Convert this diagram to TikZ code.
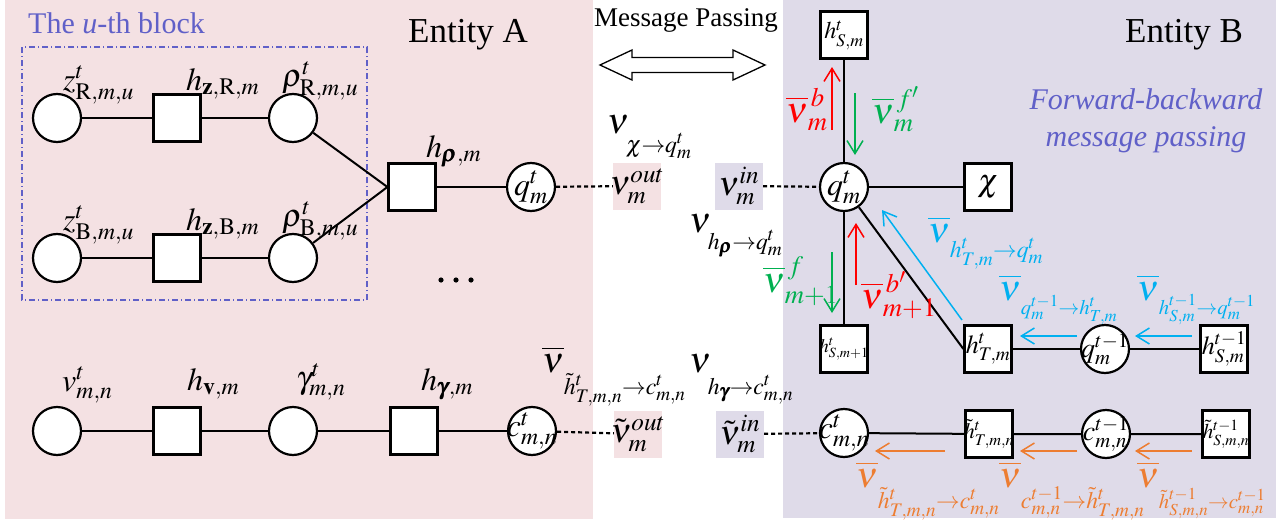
\documentclass[tikz,border=0pt]{standalone}
\usepackage{amsmath}
\usepackage{mathptmx}
\usepackage{fontspec}
\setmainfont{Liberation Serif}
\usetikzlibrary{arrows.meta}
\definecolor{pinkbg}{RGB}{244,225,227}
\definecolor{lavbg}{RGB}{223,219,233}
\definecolor{bluev}{RGB}{96,96,200}
\definecolor{myred}{RGB}{255,0,0}
\definecolor{mygreen}{RGB}{0,176,80}
\definecolor{myblue}{RGB}{0,176,240}
\definecolor{myorange}{RGB}{237,125,49}
\newcommand{\Lsub}[2][16pt]{_{\raisebox{-#1}{\fontsize{32}{38}\selectfont$\scriptstyle #2$}}}
\newcommand{\LsubS}[2][16pt]{_{\raisebox{-#1}{\fontsize{28}{34}\selectfont$\scriptstyle #2$}}}
\newcommand{\ob}{\overline{\nu}}
\tikzset{
  vnode/.style={circle, draw, line width=2.2pt, fill=white, minimum size=48pt, inner sep=0pt},
  fnode/.style={rectangle, draw, line width=2.2pt, fill=white, minimum size=47pt, inner sep=0pt},
  edgeline/.style={line width=2pt},
  dedge/.style={line width=2.2pt, dash pattern=on 4pt off 3pt},
  msgbox/.style={rectangle, minimum width=48pt, minimum height=47pt, inner sep=0pt},
  marr/.style={line width=1.5pt, -{Straight Barb[length=13pt,width=16pt]}},
  lab/.style={inner sep=0pt, anchor=base west, font=\fontsize{32}{38}\selectfont},
  nlab/.style={inner sep=0pt, anchor=base west, font=\fontsize{36}{42}\selectfont},
  inlab/.style={font=\fontsize{32}{38}\selectfont},
  sqlab/.style={font=\fontsize{24}{28}\selectfont},
  title/.style={inner sep=0pt, font=\fontsize{35}{42}\selectfont},
}
\begin{document}
\begin{tikzpicture}[x=1pt,y=-1pt]
\useasboundingbox (0,0) rectangle (1283,522);
% backgrounds
\fill[pinkbg] (5,0) rectangle (593,519);
\fill[lavbg] (783,0) rectangle (1276,518);
% titles
\node[title, anchor=base west, text=bluev, font=\fontsize{30}{36}\selectfont] (tblock) at (28,33) {The \textit{u}-th block};
\node[title, anchor=base] (tA) at (468,42) {Entity A};
\node[title, anchor=base] (tB) at (1184,42) {Entity B};
\node[title, anchor=base, font=\fontsize{27}{32}\selectfont] (tMP) at (686,27) {Message Passing};
\node[title, text=bluev, align=center, font=\fontsize{30}{37}\itshape\selectfont] (tFB) at (1146,121) {Forward-backward\\message passing};
% double arrow
\draw[line width=1.3pt, fill=white] (600,65) -- (632,50) -- (632,57.5) -- (733,57.5) -- (733,50) -- (765,65) -- (733,80) -- (733,72.5) -- (632,72.5) -- (632,80) -- cycle;
% u-th block
\draw[bluev, line width=1.1pt, dash pattern=on 6pt off 3pt on 1pt off 3pt] (22,47) rectangle (367,300);

% ---------- left nodes ----------
\node[vnode] (zR) at (57,118) {};
\node[fnode] (hzR) at (177,118) {};
\node[vnode] (rhoR) at (293,118) {};
\node[vnode] (zB) at (57,258) {};
\node[fnode] (hzB) at (177,258) {};
\node[vnode] (rhoB) at (293,258) {};
\node[fnode] (hrho) at (412,187) {};
\node[vnode, label={[inlab]center:$q^t_m$}] (qL) at (531,187) {};
\node[vnode] (v) at (57,431) {};
\node[fnode] (hv) at (177,431) {};
\node[vnode] (gam) at (293,431) {};
\node[fnode] (hgam) at (414,431) {};
\node[vnode, label={[inlab]center:$c^t_{m,n}$}] (cL) at (532,431) {};

\draw[edgeline] (zR) -- (hzR) -- (rhoR);
\draw[edgeline] (zB) -- (hzB) -- (rhoB);
\draw[edgeline] (rhoR) -- (hrho.west);
\draw[edgeline] (rhoB) -- (hrho.west);
\draw[edgeline] (hrho) -- (qL);
\draw[edgeline] (v) -- (hv) -- (gam) -- (hgam) -- (cL);

\node[lab] (lzR) at (63,90) {$z^t_{\mathrm{R},m,u}$};
\node[lab] (lhzR) at (186,90) {$h_{\mathbf{z},\mathrm{R},m}$};
\node[lab] (lrhoR) at (282,86) {$\rho^t_{\mathrm{R},m,u}$};
\node[lab] (lzB) at (63,230) {$z^t_{\mathrm{B},m,u}$};
\node[lab] (lhzB) at (186,230) {$h_{\mathbf{z},\mathrm{B},m}$};
\node[lab] (lrhoB) at (282,226) {$\rho^t_{\mathrm{B},m,u}$};
\node[lab] (lhrho) at (426,157) {$h_{\pmb{\rho},m}$};
\node[lab] (lv) at (62,391) {$v^t_{m,n}$};
\node[lab] (lhv) at (187,390) {$h_{\mathbf{v},m}$};
\node[lab] (lgam) at (296,388) {$\gamma^t_{m,n}$};
\node[lab] (lhgam) at (421,390) {$h_{\pmb{\gamma},m}$};
\foreach \xx [count=\i] in {441,456,471} \fill (\xx,280) circle (2.6pt);

% ---------- middle ----------
\node[msgbox, fill=pinkbg, label={[inlab, font=\fontsize{34}{40}\selectfont]center:$\nu^{out}_m$}] (nuout) at (637,186) {};
\node[msgbox, fill=lavbg, label={[inlab, font=\fontsize{34}{40}\selectfont]center:$\nu^{in}_m$}] (nuin) at (739,186) {};
\node[msgbox, fill=pinkbg, label={[inlab, font=\fontsize{34}{40}\selectfont]center:$\tilde\nu^{out}_m$}] (nutout) at (638,434) {};
\node[msgbox, fill=lavbg, label={[inlab, font=\fontsize{34}{40}\selectfont]center:$\tilde\nu^{in}_m$}] (nutin) at (740,434) {};
\node[nlab] (lnuchi) at (607,133) {$\nu\Lsub[14pt]{\chi\to q^t_m}$};
\node[nlab] (lnuhrho) at (689,232) {$\nu\Lsub[12pt]{h_{\pmb{\rho}}\to q^t_m}$};
\node[nlab] (lnubT) at (542,372) {$\ob\Lsub[17pt]{\tilde h^t_{T,m,n}\to c^t_{m,n}}$};
\node[nlab] (lnuhg) at (689,372) {$\nu\Lsub[17pt]{h_{\pmb{\gamma}}\to c^t_{m,n}}$};

% ---------- right nodes ----------
\node[fnode, label={[sqlab]center:$h^t_{S,m}$}] (hS) at (844,35) {};
\node[vnode, label={[inlab]center:$q^t_m$}] (qR) at (844,187) {};
\node[fnode, label={[inlab]center:$\chi$}] (chi) at (988,187) {};
\node[fnode, label={[sqlab, font=\fontsize{19}{23}\selectfont]center:$h^t_{S,m+1}$}] (hS1) at (844,349) {};
\node[fnode, label={[sqlab, font=\fontsize{26}{30}\selectfont]center:$h^t_{T,m}$}] (hT) at (988,349) {};
\node[vnode, label={[inlab, font=\fontsize{28}{32}\selectfont]center:$q^{t-1}_m$}] (qt1) at (1105,349) {};
\node[fnode, label={[sqlab, font=\fontsize{26}{30}\selectfont]center:$h^{t-1}_{S,m}$}] (hSt1) at (1224,349) {};
\node[vnode, label={[inlab]center:$c^t_{m,n}$}] (cR) at (844,433) {};
\node[fnode, label={[sqlab, font=\fontsize{22}{26}\selectfont]center:$\tilde h^t_{T,m,n}$}] (hTt) at (989,434) {};
\node[vnode, label={[inlab, font=\fontsize{28}{32}\selectfont]center:$c^{t-1}_{m,n}$}] (ct1) at (1106,434) {};
\node[fnode, label={[sqlab, font=\fontsize{21}{25}\selectfont]center:$\tilde h^{t-1}_{S,m,n}$}] (hSt) at (1226,434) {};

\draw[edgeline] (hS) -- (qR) -- (hS1);
\draw[edgeline] (qR) -- (chi);
\draw[edgeline] (qR) -- (hT.west);
\draw[edgeline] (hT) -- (qt1) -- (hSt1);
\draw[edgeline] (cR) -- (hTt) -- (ct1) -- (hSt);
\draw[dedge] (qL) -- (nuout);
\draw[dedge] (nuin) -- (qR);
\draw[dedge] (cL) -- (nutout);
\draw[dedge] (nutin) -- (cR);

% ---------- message arrows ----------
\coordinate (rA1) at (832,130); \coordinate (rA2) at (832,67);
\coordinate (gA1) at (855,93);  \coordinate (gA2) at (855,155);
\coordinate (rB1) at (856,285); \coordinate (rB2) at (856,223);
\coordinate (gB1) at (832,252); \coordinate (gB2) at (832,313);
\draw[marr, myred] (rA1) -- (rA2);
\draw[marr, mygreen] (gA1) -- (gA2);
\draw[marr, myred] (rB1) -- (rB2);
\draw[marr, mygreen] (gB1) -- (gB2);
\node[nlab, text=myred] (lrA) at (786,122) {$\ob^{\,b}_m$};
\node[nlab, text=mygreen] (lgA) at (872,123) {$\ob^{\,f'}_m$};
\node[nlab, text=mygreen] (lgB) at (763,292) {$\ob^{\,f}_{m+1}$};
\node[nlab, text=myred] (lrB) at (861,308) {$\ob^{\,b'}_{m+1}$};

\coordinate (bD1) at (962,320); \coordinate (bD2) at (882,210);
\coordinate (bH1) at (1077,336); \coordinate (bH2) at (1020,336);
\coordinate (bH3) at (1192,336); \coordinate (bH4) at (1135,336);
\draw[marr, myblue] (bD1) -- (bD2);
\draw[marr, myblue] (bH1) -- (bH2);
\draw[marr, myblue] (bH3) -- (bH4);
\node[nlab, text=myblue] (lbD) at (928,242) {$\ob\Lsub[10pt]{h^t_{T,m}\to q^t_m}$};
\node[nlab, text=myblue] (lbH1) at (999,300) {$\ob\LsubS[9pt]{q^{t-1}_m\to h^t_{T,m}}$};
\node[nlab, text=myblue] (lbH2) at (1137,300) {$\ob\LsubS[9pt]{h^{t-1}_{S,m}\to q^{t-1}_m}$};

\coordinate (oA1) at (945,451); \coordinate (oA2) at (875,451);
\coordinate (oB1) at (1077,451); \coordinate (oB2) at (1020,451);
\coordinate (oC1) at (1192,451); \coordinate (oC2) at (1135,451);
\draw[marr, myorange] (oA1) -- (oA2);
\draw[marr, myorange] (oB1) -- (oB2);
\draw[marr, myorange] (oC1) -- (oC2);
\node[nlab, text=myorange] (loA) at (856,487) {$\ob\Lsub{\tilde h^t_{T,m,n}\to c^t_{m,n}}$};
\node[nlab, text=myorange] (loB) at (999,487) {$\ob\Lsub{c^{t-1}_{m,n}\to \tilde h^t_{T,m,n}}$};
\node[nlab, text=myorange] (loC) at (1137,487) {$\ob\LsubS{\tilde h^{t-1}_{S,m,n}\to c^{t-1}_{m,n}}$};
\end{tikzpicture}
\end{document}
